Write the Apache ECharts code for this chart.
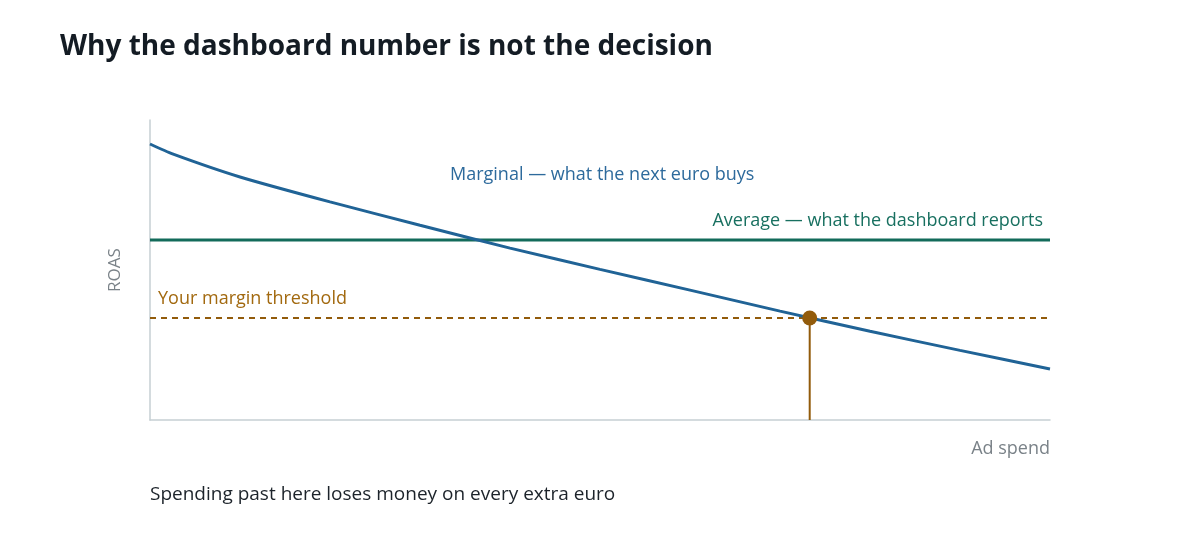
<!DOCTYPE html>
<html>
<head>
<meta charset="utf-8">
<script src="https://cdn.jsdelivr.net/npm/echarts@6/dist/echarts.min.js"></script>
<style>
html,body{margin:0;padding:0;background:#fff;}
#c{width:1200px;height:540px;}
</style>
</head>
<body>
<div id="c"></div>
<script>
// Data
const spendX = [0, 2.5, 10, 20, 30, 40, 50, 60, 70, 80, 90, 100];
const marginalRoas = [9.2, 8.87, 8.1, 7.27, 6.49, 5.73, 5.02, 4.33, 3.63, 2.96, 2.32, 1.7];
const averageRoas = 6.0;
const thresholdRoas = 3.4;
const breakEvenSpend = 73.3;

const titleText = 'Why the dashboard number is not the decision';
const marginalLabel = 'Marginal — what the next euro buys';
const averageLabel = 'Average — what the dashboard reports';
const thresholdLabel = 'Your margin threshold';
const footerText = 'Spending past here loses money on every extra euro';

const FONT = '"Open Sans", "Noto Sans", sans-serif';
const BLUE = '#206396';
const GREEN = '#136b5a';
const BROWN = '#925b0b';

const chart = echarts.init(document.getElementById('c'));
chart.setOption({
  animation: false,
  textStyle: { fontFamily: FONT },
  title: {
    text: titleText,
    left: 55, top: 28,
    textStyle: { fontFamily: FONT, fontSize: 28, fontWeight: 'bold', color: '#141c24' }
  },
  grid: { left: 150, right: 150, top: 120, bottom: 120, containLabel: false },
  xAxis: {
    type: 'value', min: 0, max: 100,
    axisLine: { show: true, lineStyle: { color: '#c6cfd3', width: 1.5 } },
    axisTick: { show: false }, axisLabel: { show: false }, splitLine: { show: false }
  },
  yAxis: {
    type: 'value', min: 0, max: 10,
    name: 'ROAS', nameLocation: 'middle', nameGap: 26, nameRotate: 90,
    nameTextStyle: { color: '#7a8288', fontSize: 17, fontFamily: FONT },
    axisLine: { show: true, lineStyle: { color: '#c6cfd3', width: 1.5 } },
    axisTick: { show: false }, axisLabel: { show: false }, splitLine: { show: false }
  },
  series: [
    {
      type: 'line', name: 'Average', symbol: 'none',
      data: [[0, averageRoas], [100, averageRoas]],
      lineStyle: { color: GREEN, width: 3 }
    },
    {
      type: 'line', name: 'Threshold', symbol: 'none',
      data: [[0, thresholdRoas], [100, thresholdRoas]],
      lineStyle: { color: BROWN, width: 1.8, type: [6, 5] }
    },
    {
      type: 'line', name: 'Marginal', symbol: 'none', smooth: 0.2,
      data: spendX.map((x, i) => [x, marginalRoas[i]]),
      lineStyle: { color: BLUE, width: 3 }
    },
    {
      type: 'line', name: 'Drop', symbol: 'none',
      data: [[breakEvenSpend, 0], [breakEvenSpend, thresholdRoas]],
      lineStyle: { color: BROWN, width: 2 }
    },
    {
      type: 'scatter', name: 'Break-even', symbolSize: 15,
      data: [[breakEvenSpend, thresholdRoas]],
      itemStyle: { color: BROWN, opacity: 1 }, z: 5
    }
  ],
  graphic: [
    { type: 'text', left: 450, top: 166, style: { text: marginalLabel, fill: '#2d6a9c', font: '18px ' + FONT } },
    { type: 'text', right: 157, top: 212, style: { text: averageLabel, fill: '#187060', font: '18px ' + FONT } },
    { type: 'text', left: 158, top: 290, style: { text: thresholdLabel, fill: '#a2690f', font: '18px ' + FONT } },
    { type: 'text', right: 150, top: 440, style: { text: 'Ad spend', fill: '#7a8288', font: '18px ' + FONT } },
    { type: 'text', left: 150, top: 485, style: { text: footerText, fill: '#1c232a', font: '19px ' + FONT } }
  ]
});
</script>
</body>
</html>
